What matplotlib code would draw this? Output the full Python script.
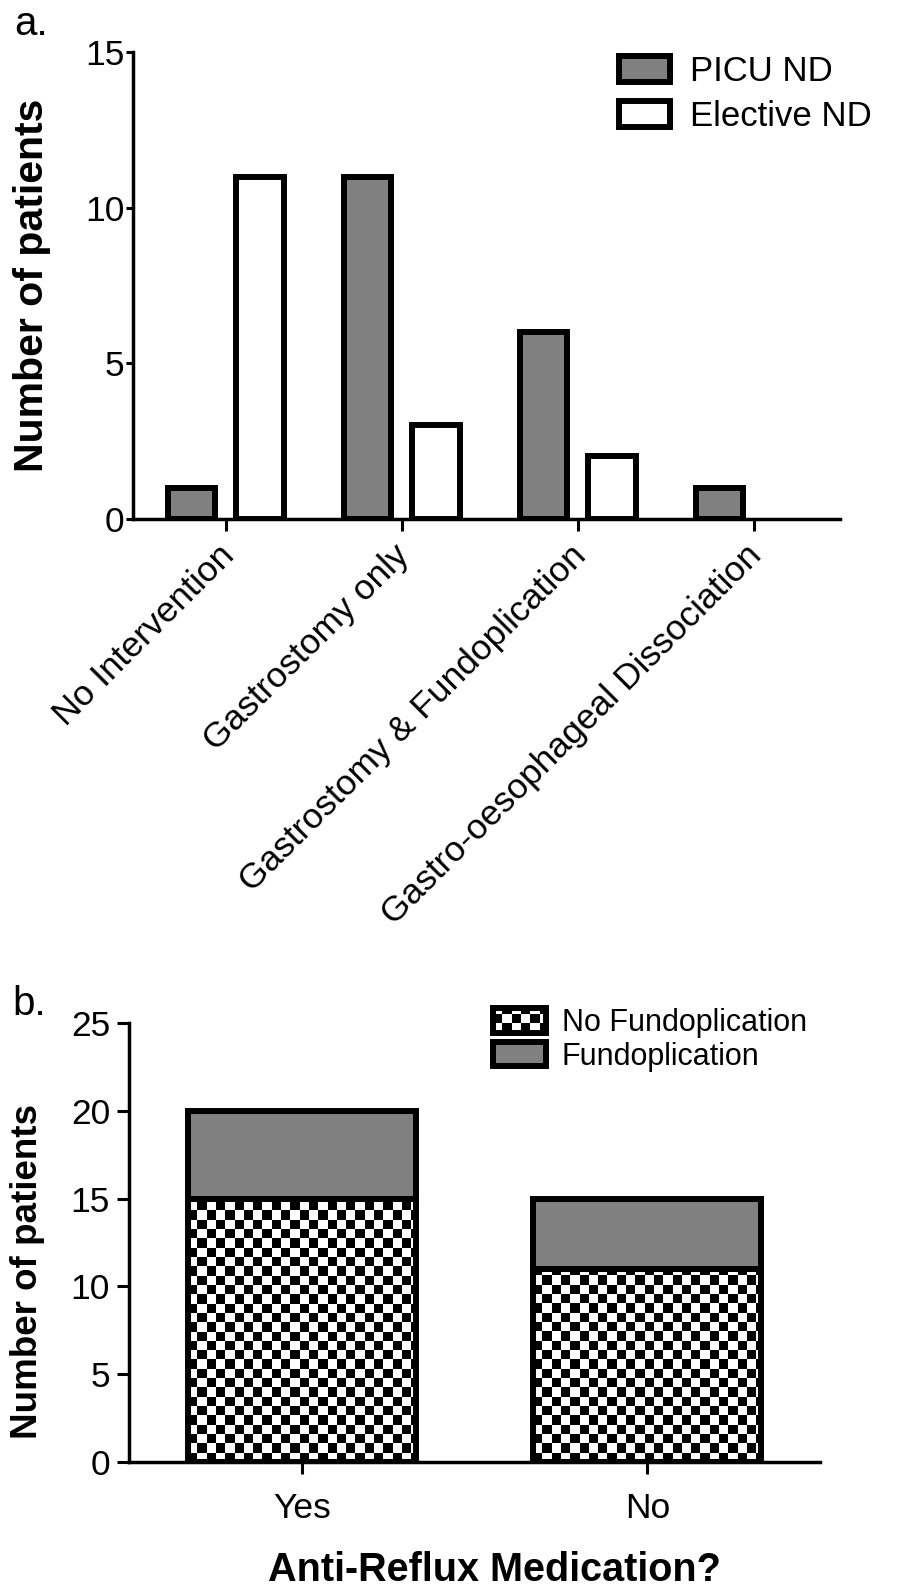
import numpy as np
import matplotlib
matplotlib.use("Agg")
import matplotlib.pyplot as plt
from matplotlib.patches import Patch, Rectangle
from matplotlib.legend_handler import HandlerBase
from matplotlib.transforms import ScaledTranslation

plt.rcParams["font.family"] = ["Liberation Sans", "DejaVu Sans"]

# a. feeding intervention after neurodisability assessment
interventions = ["No Intervention", "Gastrostomy only",
                 "Gastrostomy & Fundoplication", "Gastro-oesophageal Dissociation"]
picu_nd = [1, 11, 6, 1]
elective_nd = [11, 3, 2, 0]

# b. fundoplication split by anti-reflux medication
medication = ["Yes", "No"]
no_fundoplication = [15, 11]
fundoplication = [5, 4]

GREY = "#808080"
EDGE_LW = 4.3      # bar outline, points
SPINE_LW = 2.5
CELL_PX = 9.3      # checkerboard square, pixels
DPI = 100


def checker(nrows, ncols):
    r, c = np.indices((nrows, ncols))
    return ((r + c) % 2).astype(float)


def fill_checker(ax, bar):
    """Paint a black/white checkerboard inside a bar, clipped to its outline."""
    x0, y0 = bar.get_x(), bar.get_y()
    x1, y1 = x0 + bar.get_width(), y0 + bar.get_height()
    (px0, py0), (px1, py1) = ax.transData.transform([(x0, y0), (x1, y1)])
    ncols = int(np.ceil((px1 - px0) / CELL_PX))
    nrows = int(np.ceil((py1 - py0) / CELL_PX))
    dx = CELL_PX * (x1 - x0) / (px1 - px0)
    dy = CELL_PX * (y1 - y0) / (py1 - py0)
    im = ax.imshow(checker(nrows, ncols), cmap="gray", vmin=0, vmax=1,
                   extent=(x0, x0 + ncols * dx, y0, y0 + nrows * dy),
                   origin="lower", interpolation="nearest", aspect="auto", zorder=1.5)
    im.set_clip_path(bar)


class CheckerHandler(HandlerBase):
    def create_artists(self, legend, orig_handle, xdescent, ydescent,
                       width, height, fontsize, trans):
        x0, y0 = -xdescent, -ydescent
        cell = CELL_PX * 72 / DPI
        arts = [Rectangle((x0, y0), width, height, facecolor="white",
                          edgecolor="none", transform=trans)]
        for r in range(int(np.ceil(height / cell))):
            for c in range(int(np.ceil(width / cell))):
                if (r + c) % 2:
                    w = min(cell, width - c * cell)
                    h = min(cell, height - r * cell)
                    arts.append(Rectangle((x0 + c * cell, y0 + r * cell), w, h,
                                          facecolor="black", edgecolor="none",
                                          transform=trans))
        arts.append(Rectangle((x0, y0), width, height, facecolor="none",
                              edgecolor="black", lw=EDGE_LW, transform=trans))
        return arts


def style_axes(ax, labelsize):
    for side in ("top", "right"):
        ax.spines[side].set_visible(False)
    for side in ("left", "bottom"):
        ax.spines[side].set_linewidth(SPINE_LW)
    ax.tick_params(direction="out", width=2.2, labelsize=labelsize)


fig = plt.figure(figsize=(9.01, 15.86), dpi=DPI)

# ---- panel a: grouped bars ----
ax1 = fig.add_axes([0.1471, 0.6730, 0.7852, 0.2939])
x = np.arange(len(interventions))
w = 0.27
off = 0.195
b1 = ax1.bar(x - off, picu_nd, w, color=GREY, edgecolor="black", lw=EDGE_LW, zorder=2)
b2 = ax1.bar(x + off, elective_nd, w, color="white", edgecolor="black", lw=EDGE_LW, zorder=2)
for rect in list(b1) + list(b2):
    if rect.get_height() == 0:
        rect.set_visible(False)
ax1.set_xlim(-0.53, 3.49)
ax1.set_ylim(0, 15)
ax1.set_yticks([0, 5, 10, 15])
ax1.set_xticks(x)
ax1.set_xticklabels(interventions, rotation=45, ha="right", va="center",
                    rotation_mode="anchor")
style_axes(ax1, 25.5)
ax1.tick_params(axis="y", length=5, pad=0.8)
ax1.tick_params(axis="x", length=8.6, pad=10)
shift = ScaledTranslation(3 / DPI, -6 / DPI, fig.dpi_scale_trans)
for lab in ax1.get_xticklabels():
    lab.set_transform(lab.get_transform() + shift)
ax1.set_ylabel("Number of patients", fontsize=29.5, fontweight="bold", va="center")
ax1.yaxis.set_label_coords(-0.142, 0.5)
ax1.legend([Patch(facecolor=GREY, edgecolor="black", lw=EDGE_LW),
            Patch(facecolor="white", edgecolor="black", lw=EDGE_LW)],
           ["PICU ND", "Elective ND"], loc="upper left",
           bbox_to_anchor=(619 / 901, 1 - 55 / 1586), bbox_transform=fig.transFigure,
           frameon=False, fontsize=25, borderpad=0, borderaxespad=0,
           handlelength=1.47, handleheight=0.75, handletextpad=0.58, labelspacing=0.35)

# ---- panel b: stacked bars ----
ax2 = fig.add_axes([0.1437, 0.0782, 0.7664, 0.2768])
xb = np.arange(len(medication))
wb = 0.66
ax2.set_xlim(-0.5, 1.5)
ax2.set_ylim(0, 25)
lower = ax2.bar(xb, no_fundoplication, wb, facecolor="none", edgecolor="black",
                lw=EDGE_LW, zorder=2)
upper = ax2.bar(xb, fundoplication, wb, bottom=no_fundoplication, color=GREY,
                edgecolor="black", lw=EDGE_LW, zorder=2)
for rect in lower:
    fill_checker(ax2, rect)
ax2.set_xlim(-0.5, 1.5)
ax2.set_ylim(0, 25)
ax2.set_yticks([0, 5, 10, 15, 20, 25])
ax2.set_xticks(xb)
ax2.set_xticklabels(medication)
style_axes(ax2, 25.5)
ax2.tick_params(axis="y", length=8.5, pad=5.5)
ax2.tick_params(axis="x", length=8.6, pad=13)
ax2.set_ylabel("Number of patients", fontsize=26.5, fontweight="bold", va="center")
ax2.yaxis.set_label_coords(-0.148, 0.435)
ax2.set_xlabel("Anti-Reflux Medication?", fontsize=28.5, fontweight="bold", va="center")
ax2.xaxis.set_label_coords(0.528, -0.245)
checker_handle = Patch()
ax2.legend([checker_handle, Patch(facecolor=GREY, edgecolor="black", lw=EDGE_LW)],
           ["No Fundoplication", "Fundoplication"], loc="upper left",
           handler_map={checker_handle: CheckerHandler()},
           bbox_to_anchor=(493 / 901, 1 - 1008 / 1586), bbox_transform=fig.transFigure,
           frameon=False, fontsize=22, borderpad=0, borderaxespad=0,
           handlelength=1.73, handleheight=0.85, handletextpad=0.52, labelspacing=0.12)

fig.text(14 / 901, 1 - 35 / 1586, "a.", fontsize=29, ha="left", va="baseline")
fig.text(12 / 901, 1 - 1015 / 1586, "b.", fontsize=29, ha="left", va="baseline")

fig.savefig("out.png", dpi=DPI)
